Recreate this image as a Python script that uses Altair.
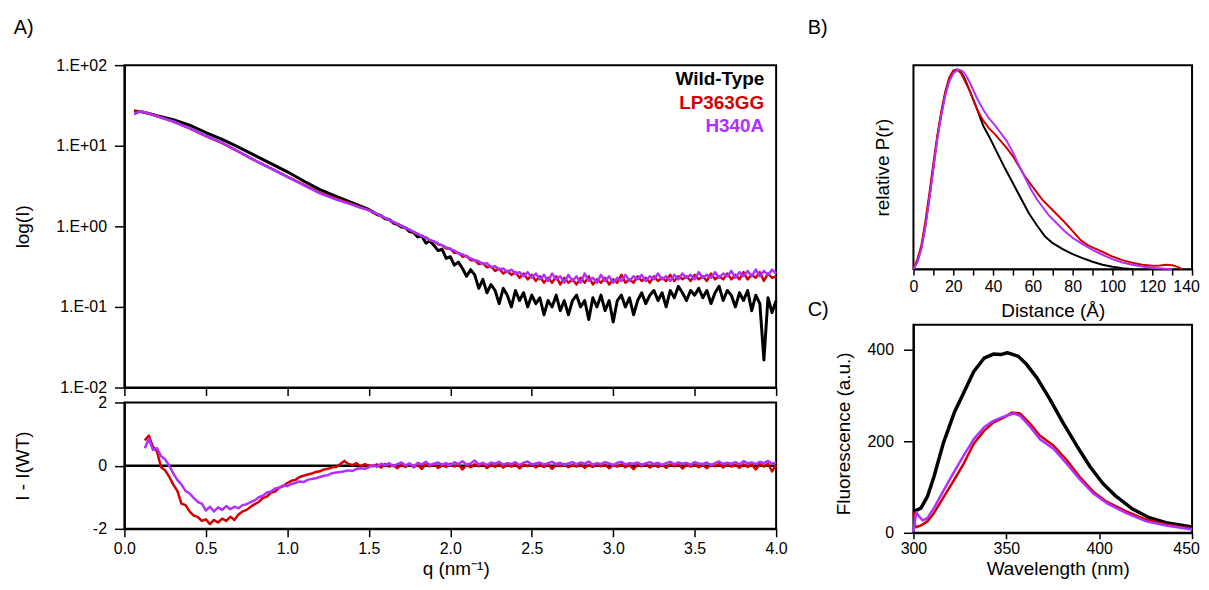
import altair as alt
import pandas as pd

FONT = "Liberation Sans"
NAMES = ["Wild-Type", "LP363GG", "H340A"]
COLORS = ["#000000", "#d40000", "#b030ff"]

# ---------------- A) SAXS log(I) vs q ----------------
Q_LOW = [0.06, 0.1, 0.15, 0.2, 0.3, 0.4, 0.5, 0.6, 0.7, 0.8, 0.9, 1.0, 1.1, 1.2, 1.3, 1.4, 1.45]
Q_HIGH = [round(1.5 + 0.025 * i, 3) for i in range(101)]

I_WT_LOW = [27.0, 26.5, 25.2, 23.6, 21.0, 18.0, 14.6, 12.0, 9.6, 7.6, 6.0, 4.75, 3.65, 2.85, 2.35, 1.95, 1.78]
I_LP_LOW = [27.2, 26.5, 25.0, 23.2, 19.9, 16.4, 13.2, 10.8, 8.45, 6.6, 5.25, 4.15, 3.3, 2.62, 2.2, 1.88, 1.72]
I_H_LOW = [24.5, 26.8, 25.2, 23.3, 20.0, 16.5, 13.3, 10.9, 8.5, 6.6, 5.2, 4.1, 3.25, 2.57, 2.15, 1.85, 1.70]

I_WT_HIGH = [
    1.62, 1.52, 1.40, 1.36, 1.24, 1.22, 1.10, 1.06, 0.98, 0.96,
    0.86, 0.84, 0.74, 0.76, 0.62, 0.66, 0.58, 0.50, 0.52, 0.40,
    0.42, 0.33, 0.36, 0.30, 0.24, 0.29, 0.25, 0.17, 0.22, 0.15,
    0.19, 0.16, 0.11, 0.17, 0.14, 0.10, 0.16, 0.12, 0.15, 0.10,
    0.14, 0.11, 0.13, 0.08, 0.12, 0.10, 0.14, 0.09, 0.12, 0.08,
    0.12, 0.14, 0.10, 0.12, 0.07, 0.13, 0.10, 0.14, 0.09, 0.12,
    0.065, 0.12, 0.14, 0.10, 0.13, 0.08, 0.12, 0.15, 0.11, 0.14,
    0.16, 0.12, 0.15, 0.10, 0.16, 0.13, 0.18, 0.15, 0.12, 0.16,
    0.14, 0.17, 0.13, 0.16, 0.11, 0.15, 0.18, 0.12, 0.16, 0.14,
    0.10, 0.15, 0.12, 0.16, 0.09, 0.14, 0.11, 0.022, 0.13, 0.085,
    0.12,
]
I_LP_HIGH = [
    1.60, 1.48, 1.42, 1.35, 1.25, 1.21, 1.12, 1.07, 1.02, 0.95,
    0.91, 0.84, 0.81, 0.75, 0.73, 0.67, 0.65, 0.60, 0.58, 0.53,
    0.53, 0.47, 0.47, 0.42, 0.43, 0.38, 0.38, 0.34, 0.35, 0.31,
    0.32, 0.28, 0.30, 0.26, 0.28, 0.25, 0.27, 0.23, 0.26, 0.22,
    0.25, 0.21, 0.24, 0.20, 0.23, 0.20, 0.24, 0.19, 0.23, 0.20,
    0.22, 0.19, 0.23, 0.20, 0.24, 0.19, 0.22, 0.20, 0.23, 0.19,
    0.22, 0.20, 0.25, 0.20, 0.22, 0.20, 0.24, 0.21, 0.23, 0.20,
    0.24, 0.21, 0.23, 0.21, 0.25, 0.21, 0.24, 0.22, 0.24, 0.21,
    0.25, 0.22, 0.24, 0.21, 0.26, 0.22, 0.24, 0.22, 0.26, 0.22,
    0.25, 0.22, 0.27, 0.22, 0.25, 0.23, 0.27, 0.21, 0.26, 0.23,
    0.24,
]
I_H_HIGH = [
    1.58, 1.51, 1.43, 1.35, 1.27, 1.20, 1.14, 1.08, 1.01, 0.96,
    0.90, 0.86, 0.80, 0.76, 0.72, 0.68, 0.65, 0.61, 0.58, 0.55,
    0.52, 0.50, 0.46, 0.45, 0.42, 0.40, 0.38, 0.37, 0.34, 0.35,
    0.31, 0.32, 0.29, 0.30, 0.27, 0.29, 0.26, 0.27, 0.24, 0.27,
    0.23, 0.26, 0.22, 0.25, 0.21, 0.26, 0.22, 0.24, 0.20, 0.25,
    0.21, 0.24, 0.20, 0.26, 0.21, 0.23, 0.20, 0.25, 0.21, 0.24,
    0.20, 0.23, 0.21, 0.25, 0.21, 0.24, 0.22, 0.25, 0.21, 0.24,
    0.22, 0.26, 0.22, 0.24, 0.21, 0.25, 0.22, 0.26, 0.23, 0.25,
    0.22, 0.27, 0.23, 0.25, 0.23, 0.27, 0.23, 0.26, 0.24, 0.28,
    0.23, 0.27, 0.24, 0.28, 0.24, 0.29, 0.24, 0.28, 0.25, 0.29,
    0.26,
]

# ---------------- A) residuals I - I(WT) ----------------
Q_RES_LOW = [round(0.125 + 0.025 * i, 3) for i in range(56)]
Q_RES_HIGH = Q_HIGH[1:]

D_LP_LOW = [0.80, 0.95, 0.60, 0.45, -0.05, -0.15, -0.35, -0.60, -0.80, -1.20,
            -1.25, -1.45, -1.58, -1.62, -1.75, -1.70, -1.85, -1.72, -1.80, -1.68,
            -1.75, -1.62, -1.72, -1.55, -1.45, -1.40, -1.30, -1.22, -1.15, -1.02,
            -0.98, -0.85, -0.82, -0.70, -0.65, -0.55, -0.48, -0.45, -0.36, -0.32,
            -0.28, -0.25, -0.20, -0.18, -0.12, -0.10, -0.05, -0.04, 0.05, 0.15,
            0.05, 0.02, 0.08, -0.03, 0.05, 0.00]
D_H_LOW = [0.55, 0.85, 0.50, 0.55, 0.30, 0.20, 0.00, -0.25, -0.45, -0.60,
           -0.80, -0.88, -1.02, -1.15, -1.20, -1.42, -1.30, -1.45, -1.32, -1.40,
           -1.28, -1.38, -1.30, -1.35, -1.25, -1.22, -1.15, -1.10, -1.00, -0.95,
           -0.85, -0.82, -0.72, -0.70, -0.62, -0.65, -0.58, -0.55, -0.50, -0.52,
           -0.45, -0.42, -0.40, -0.36, -0.32, -0.30, -0.24, -0.22, -0.20, -0.18,
           -0.15, -0.17, -0.10, -0.08, -0.10, -0.05]
D_LP_HIGH = [
    -0.02, 0.04, -0.06, 0.05, -0.03, 0.02, -0.08, 0.03, -0.04, 0.06,
    -0.05, 0.02, -0.10, 0.04, -0.02, 0.05, -0.07, 0.01, -0.04, 0.06,
    -0.03, 0.03, -0.12, 0.02, -0.05, 0.04, -0.02, 0.06, -0.08, 0.03,
    -0.04, 0.05, -0.06, 0.02, -0.03, 0.04, -0.09, 0.03, -0.02, 0.05,
    -0.06, 0.02, -0.04, 0.04, -0.10, 0.03, -0.02, 0.05, -0.05, 0.01,
    -0.03, 0.04, -0.07, 0.02, -0.04, 0.05, -0.02, 0.03, -0.08, 0.02,
    -0.03, 0.04, -0.05, 0.02, -0.11, 0.03, -0.02, 0.05, -0.06, 0.02,
    -0.04, 0.03, -0.07, 0.04, -0.02, 0.05, -0.09, 0.02, -0.03, 0.04,
    -0.05, 0.02, -0.08, 0.03, -0.02, 0.05, -0.06, 0.04, -0.03, 0.02,
    -0.07, 0.04, -0.04, 0.03, -0.12, 0.05, -0.03, 0.06, -0.18, 0.02,
]
D_H_HIGH = [
    0.02, -0.04, 0.06, 0.01, 0.08, -0.02, 0.05, 0.10, 0.01, 0.07,
    -0.03, 0.09, 0.04, 0.12, 0.02, 0.06, 0.10, 0.03, 0.08, 0.00,
    0.11, 0.05, 0.14, 0.03, 0.07, 0.16, 0.04, 0.09, 0.02, 0.10,
    0.06, 0.12, 0.03, 0.08, 0.05, 0.11, 0.02, 0.09, 0.13, 0.04,
    0.07, 0.10, 0.03, 0.08, 0.12, 0.05, 0.09, 0.02, 0.07, 0.11,
    0.04, 0.10, 0.06, 0.13, 0.03, 0.08, 0.05, 0.11, 0.07, 0.02,
    0.09, 0.12, 0.04, 0.08, 0.06, 0.10, 0.03, 0.07, 0.11, 0.05,
    0.09, 0.02, 0.08, 0.12, 0.04, 0.10, 0.06, 0.09, 0.03, 0.11,
    0.07, 0.05, 0.10, 0.02, 0.08, 0.13, 0.05, 0.09, 0.06, 0.11,
    0.04, 0.14, 0.07, 0.10, 0.05, 0.12, 0.08, 0.15, 0.06, 0.10,
]

# ---------------- B) P(r) ----------------
R_WT = [0, 2, 4, 6, 8, 10, 12, 14, 16, 18, 20, 22, 24, 26, 28, 30, 32, 35, 38, 42,
        46, 50, 54, 58, 62, 66, 70, 75, 80, 85, 90, 95, 100, 105, 110]
P_WT = [0, 0.04, 0.11, 0.22, 0.36, 0.51, 0.66, 0.78, 0.88, 0.95, 0.99, 1.0, 0.985, 0.95, 0.9,
        0.85, 0.8, 0.72, 0.665, 0.585, 0.505, 0.43, 0.355, 0.28, 0.22, 0.165, 0.13, 0.1, 0.075,
        0.055, 0.037, 0.022, 0.012, 0.005, 0.0]
R_LP = [0, 2, 4, 6, 8, 10, 12, 14, 16, 18, 20, 22, 24, 26, 28, 30, 32, 35, 38, 41,
        44, 47, 50, 53, 56, 59, 62, 65, 68, 72, 76, 80, 84, 88, 92, 96, 100, 105, 110, 115,
        120, 124, 127, 130, 133, 135]
P_LP = [0, 0.05, 0.12, 0.24, 0.38, 0.53, 0.67, 0.79, 0.89, 0.96, 0.995, 1.0, 0.98, 0.94, 0.9,
        0.85, 0.8, 0.745, 0.705, 0.675, 0.64, 0.605, 0.565, 0.515, 0.465, 0.425, 0.385, 0.345,
        0.315, 0.275, 0.235, 0.19, 0.145, 0.118, 0.1, 0.082, 0.063, 0.045, 0.032, 0.022,
        0.017, 0.018, 0.022, 0.02, 0.01, 0.0]
R_H = [0, 2, 4, 6, 8, 10, 12, 14, 16, 18, 20, 22, 23, 25, 27, 29, 32, 35, 38, 41,
       44, 47, 50, 53, 56, 59, 62, 65, 68, 72, 76, 80, 85, 90, 95, 100, 105, 110, 115, 120,
       125, 130]
P_H = [0, 0.035, 0.1, 0.21, 0.35, 0.5, 0.65, 0.77, 0.87, 0.94, 0.98, 0.998, 1.0, 0.99, 0.96,
       0.92, 0.855, 0.8, 0.755, 0.72, 0.68, 0.64, 0.585, 0.52, 0.46, 0.4, 0.35, 0.31, 0.27,
       0.23, 0.19, 0.157, 0.125, 0.097, 0.072, 0.05, 0.033, 0.022, 0.013, 0.007, 0.003, 0.0]

# ---------------- C) Fluorescence ----------------
WL_WT = [300, 302, 304, 307.5, 311, 316, 322, 327, 332.5, 338, 343, 347, 350.5, 353, 356.5,
         361, 366.5, 373.5, 380.5, 388, 395, 402, 409, 418, 427, 436, 450]
F_WT = [47, 50, 54, 79, 122, 195, 263, 306, 353, 382, 391, 390, 394, 391, 386,
        368, 339, 292, 241, 190, 145, 108, 80, 52, 33, 22, 13]
WL_LP = [300, 301, 304, 307.5, 311, 316.4, 321.8, 327, 332.5, 338, 343, 348.6, 353, 357.5,
         363, 368, 375.4, 382.5, 389.6, 396.8, 404, 414.6, 425.4, 436, 450]
F_LP = [45, 12, 16, 25, 43, 79, 115, 151, 195, 223, 241, 252, 263, 261,
        238, 213, 191, 159, 122, 90, 68, 47, 29, 18, 9]
WL_H = [300, 301.5, 303, 305, 307.5, 311, 316.4, 321.8, 327, 332.5, 338, 343, 348.6, 354,
        357.5, 363, 368, 375.4, 382.5, 389.6, 396.8, 404, 414.6, 425.4, 436, 450]
F_H = [2, 45, 36, 27, 32, 54, 94, 133, 169, 205, 231, 245, 254, 261,
       256, 231, 205, 184, 151, 117, 86, 65, 43, 25, 16, 7]

Q_TICKS = [0, 0.5, 1.0, 1.5, 2.0, 2.5, 3.0, 3.5, 4.0]
LOG_TICKS = [0.01, 0.1, 1, 10, 100]
RES_TICKS = [-2, 0, 2]
R_TICKS = [0, 10, 20, 30, 40, 50, 60, 70, 80, 90, 100, 110, 120, 130, 140]
WL_TICKS = [300, 350, 400, 450]
F_TICKS = [0, 200, 400]


def df2(xs, ys, xn, yn):
    return pd.DataFrame({xn: xs, yn: ys})


def line(df, color, width, x, y):
    return alt.Chart(df).mark_line(color=color, strokeWidth=width, strokeJoin="round").encode(x=x, y=y)


def label(text, x, y, size, color="black", weight="normal", align="left"):
    return alt.Chart(pd.DataFrame({"t": [text]})).mark_text(
        x=x, y=y, fontSize=size, font=FONT, color=color, fontWeight=weight,
        align=align, baseline="alphabetic"
    ).encode(text="t:N")


# ----- top SAXS panel -----
x_top = alt.X("q:Q", scale=alt.Scale(domain=[0, 4], nice=False),
              axis=alt.Axis(values=Q_TICKS, labels=False, tickSize=8), title="")
y_top = alt.Y("I:Q", scale=alt.Scale(type="log", domain=[0.01, 100], nice=False),
              axis=alt.Axis(values=LOG_TICKS, tickSize=10, labelPadding=8, labelFlush=False,
                            labelOverlap=False,
                            labelExpr="'1.E' + (datum.value >= 1 ? '+' : '-') + '0' + abs(round(log(datum.value) / LN10))",
                            titleX=-102, titleY=162, titleAngle=270,
                            titleAlign="center", titleBaseline="middle"),
              title="log(I)")

saxs_layers = [
    line(df2(Q_LOW + Q_HIGH, I_WT_LOW + I_WT_HIGH, "q", "I"), COLORS[0], 3, x_top, y_top),
    line(df2(Q_LOW + Q_HIGH, I_LP_LOW + I_LP_HIGH, "q", "I"), COLORS[1], 2.5, x_top, y_top),
    line(df2(Q_LOW + Q_HIGH, I_H_LOW + I_H_HIGH, "q", "I"), COLORS[2], 2.5, x_top, y_top),
    label(NAMES[0], 643, 20.3, 19, COLORS[0], "bold", "right"),
    label(NAMES[1], 643, 44, 19, COLORS[1], "bold", "right"),
    label(NAMES[2], 643, 67.5, 19, COLORS[2], "bold", "right"),
    label("A)", -111.3, -31, 20),
]
top = alt.layer(*saxs_layers).properties(width=655, height=324)

# ----- residual panel -----
x_res = alt.X("q:Q", scale=alt.Scale(domain=[0, 4], nice=False),
              axis=alt.Axis(values=Q_TICKS, format=".1f", tickSize=8, labelPadding=4,
                            labelFlush=False, labelOverlap=False,
                            titleX=333, titleY=40, titleAlign="center", titleBaseline="middle"),
              title="q (nm\u207b\u00b9)")
y_res = alt.Y("d:Q", scale=alt.Scale(domain=[-2, 2], nice=False),
              axis=alt.Axis(values=RES_TICKS, tickSize=10, labelPadding=8,
                            labelFlush=False, labelOverlap=False,
                            labelExpr="datum.value < 0 ? '-' + abs(datum.value) : '' + datum.value",
                            titleX=-102, titleY=63.5, titleAngle=270,
                            titleAlign="center", titleBaseline="middle"),
              title="I - I(WT)")

zero = alt.Chart(pd.DataFrame({"d": [0]})).mark_rule(color="black", strokeWidth=2.5).encode(y=y_res)
resid = alt.layer(
    zero,
    line(df2(Q_RES_LOW + Q_RES_HIGH, D_LP_LOW + D_LP_HIGH, "q", "d"), COLORS[1], 2.5, x_res, y_res),
    line(df2(Q_RES_LOW + Q_RES_HIGH, D_H_LOW + D_H_HIGH, "q", "d"), COLORS[2], 2.5, x_res, y_res),
).properties(width=655, height=127)

# ----- B) P(r) -----
x_pr = alt.X("r:Q", scale=alt.Scale(domain=[0, 140], nice=False),
             axis=alt.Axis(values=R_TICKS, tickSize=6, labelPadding=3,
                           labelFlush=False, labelOverlap=False,
                           labelOffset={"condition": {"test": "datum.value === 140", "value": -6}, "value": 0},
                           labelExpr="datum.value % 20 === 0 ? datum.label : ''",
                           titleX=140, titleY=42, titleAlign="center", titleBaseline="middle"),
             title="Distance (\u00c5)")
y_pr = alt.Y("p:Q", scale=alt.Scale(domain=[0, 1.022], nice=False),
             axis=alt.Axis(ticks=False, labels=False, domain=False,
                           titleX=-31, titleY=102.5, titleAngle=270,
                           titleAlign="center", titleBaseline="middle"),
             title="relative P(r)")
pr = alt.layer(
    line(df2(R_WT, P_WT, "r", "p"), COLORS[0], 2, x_pr, y_pr),
    line(df2(R_LP, P_LP, "r", "p"), COLORS[1], 2, x_pr, y_pr),
    line(df2(R_H, P_H, "r", "p"), COLORS[2], 2, x_pr, y_pr),
    label("B)", -106.3, -31, 20),
).properties(width=280, height=205)

# ----- C) Fluorescence -----
x_fl = alt.X("w:Q", scale=alt.Scale(domain=[300, 450], nice=False),
             axis=alt.Axis(values=WL_TICKS, tickSize=6, labelPadding=2,
                           labelFlush=False, labelOverlap=False,
                           labelOffset={"condition": {"test": "datum.value === 450", "value": -6}, "value": 0},
                           titleX=145, titleY=36, titleAlign="center", titleBaseline="middle"),
             title="Wavelength (nm)")
y_fl = alt.Y("f:Q", scale=alt.Scale(domain=[0, 455], nice=False),
             axis=alt.Axis(values=F_TICKS, tickSize=10, labelPadding=10,
                           labelFlush=False, labelOverlap=False,
                           titleX=-70, titleY=109, titleAngle=270,
                           titleAlign="center", titleBaseline="middle"),
             title="Fluorescence (a.u.)")
fl = alt.layer(
    line(df2(WL_WT, F_WT, "w", "f"), COLORS[0], 3.5, x_fl, y_fl),
    line(df2(WL_LP, F_LP, "w", "f"), COLORS[1], 2.5, x_fl, y_fl),
    line(df2(WL_H, F_H, "w", "f"), COLORS[2], 2.5, x_fl, y_fl),
    label("C)", -106.3, -9, 20),
).properties(width=280, height=209)

left = alt.vconcat(top, resid, spacing=15, bounds="flush")
right = alt.vconcat(pr, fl, spacing=56, bounds="flush")

chart = alt.hconcat(left, right, spacing=17).properties(
    padding={"left": 4, "top": 8, "right": 0, "bottom": 0}
).configure_view(
    stroke="black", strokeWidth=2
).configure_axis(
    labelFont=FONT, titleFont=FONT, labelFontSize=16, titleFontSize=19,
    titleFontWeight="normal", labelColor="black", titleColor="black",
    tickColor="black", tickWidth=1.5, domainColor="black", domainWidth=2, grid=False
)

chart.save("out.html", embed_options={"renderer": "svg", "actions": False})
